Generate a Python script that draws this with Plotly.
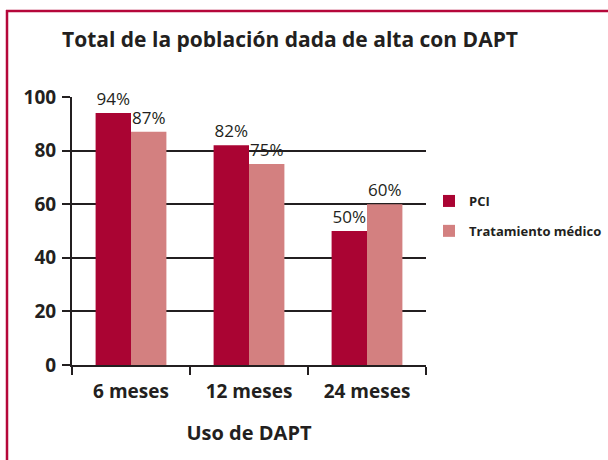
import plotly.graph_objects as go

categories = ["6 meses", "12 meses", "24 meses"]
pci = [94, 82, 50]
tratamiento = [87, 75, 60]
series_names = ["PCI", "Tratamiento médico"]
y_ticks = [0, 20, 40, 60, 80, 100]

FONT = "Open Sans"
TXT = "#231f20"
C_PCI = "#AA0433"
C_TM = "#D38080"

# pixel layout
W, H = 608, 460
L, R_, T, B = 72, 608 - 426, 97, 460 - 365
pw, ph = W - L - R_, H - T - B

def px_x(px):
    return (px - L) / pw

def px_y(py):
    return (H - B - py) / ph

fig = go.Figure()
for name, vals, col, grp in [(series_names[0], pci, C_PCI, "a"), (series_names[1], tratamiento, C_TM, "b")]:
    fig.add_trace(go.Bar(
        x=categories, y=vals, name=name, marker=dict(color=col, line=dict(width=0)),
        text=[f"{v}%" for v in vals], textposition="outside", cliponaxis=False,
        textfont=dict(family=FONT, size=17, color=TXT), legendgroup=grp,
        textangle=0,
    ))

fig.update_layout(
    width=W, height=H,
    margin=dict(l=L, r=R_, t=T, b=B, autoexpand=False),
    paper_bgcolor="white", plot_bgcolor="white",
    barmode="group", bargap=0.4, bargroupgap=0,
    font=dict(family=FONT, color=TXT),
    title=dict(text="Total de la población dada de alta con DAPT",
               x=62 / W, xanchor="left", y=1 - 40 / H, yanchor="middle",
               font=dict(family=FONT, size=21, color=TXT, weight="bold")),
    legend=dict(x=px_x(429), y=px_y(216), xanchor="left", yanchor="middle",
                font=dict(family=FONT, size=13, color=TXT, weight="bold"),
                traceorder="grouped", tracegroupgap=10,
                itemwidth=30, bgcolor="rgba(0,0,0,0)"),
    showlegend=True,
)

fig.update_xaxes(
    type="category", tickson="boundaries", ticks="outside", ticklen=8, tickwidth=2, tickcolor=TXT,
    showline=True, linecolor=TXT, linewidth=2, showgrid=False,
    tickfont=dict(family=FONT, size=19, color=TXT, weight="bold"),
    ticklabelstandoff=8,
    title=dict(text="Uso de DAPT", font=dict(family=FONT, size=20, color=TXT, weight="bold"), standoff=23),
    automargin=False,
)
fig.update_yaxes(
    range=[0, 100], tickvals=y_ticks, ticks="outside", ticklen=8, tickwidth=2, tickcolor=TXT,
    showline=True, linecolor=TXT, linewidth=2,
    showgrid=True, gridcolor=TXT, gridwidth=2, zeroline=False,
    tickfont=dict(family=FONT, size=19, color=TXT, weight="bold"),
    ticklabelstandoff=2, automargin=False,
)

# outer border (crimson frame, extends beyond the window on the right and bottom)
fig.add_shape(type="line", xref="paper", yref="paper",
              x0=px_x(7), x1=px_x(7), y0=px_y(10), y1=px_y(470),
              line=dict(color="#B5073A", width=2.5))
fig.add_shape(type="line", xref="paper", yref="paper",
              x0=px_x(6), x1=px_x(620), y0=px_y(11), y1=px_y(11),
              line=dict(color="#B5073A", width=2.5))

fig.write_html("out.html", config={"displayModeBar": False},
               post_script="document.body.style.margin='0';")
